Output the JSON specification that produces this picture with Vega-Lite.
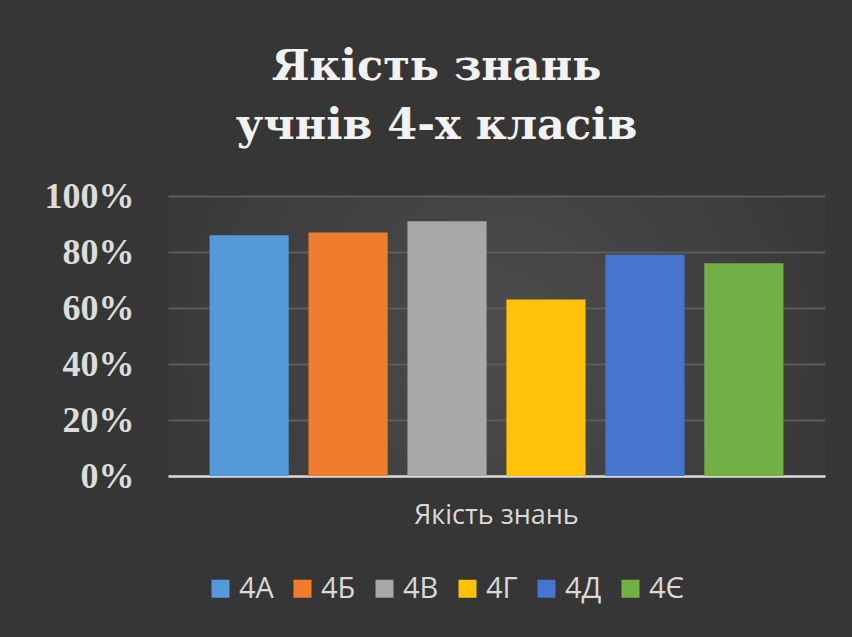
{
  "$schema": "https://vega.github.io/schema/vega-lite/v6.json",
  "autosize": "none",
  "width": 657,
  "height": 280,
  "padding": {"left": 168, "top": 196, "right": 27, "bottom": 161},
  "background": "#363636",
  "title": {
    "text": ["Якість знань", "учнів 4-х класів"],
    "font": "DejaVu Serif",
    "fontSize": 43,
    "fontWeight": "bold",
    "color": "#f2f2f2",
    "lineHeight": 59,
    "anchor": "middle",
    "frame": "group",
    "dx": -60,
    "offset": 30
  },
  "data": {
    "values": [
      {"criterion": "Якість знань", "class": "4А", "value": 0.86},
      {"criterion": "Якість знань", "class": "4Б", "value": 0.87},
      {"criterion": "Якість знань", "class": "4В", "value": 0.91},
      {"criterion": "Якість знань", "class": "4Г", "value": 0.63},
      {"criterion": "Якість знань", "class": "4Д", "value": 0.79},
      {"criterion": "Якість знань", "class": "4Є", "value": 0.76}
    ]
  },
  "mark": {"type": "bar"},
  "encoding": {
    "x": {
      "field": "criterion",
      "type": "nominal",
      "scale": {"paddingInner": 0, "paddingOuter": 0},
      "axis": {
        "title": null,
        "labelAngle": 0,
        "labelFont": "Open Sans",
        "labelFontSize": 27,
        "labelColor": "#d9d9d9",
        "labelPadding": 39,
        "labelBaseline": "middle",
        "ticks": false,
        "domain": true,
        "domainColor": "#d9d9d9",
        "domainWidth": 2.5,
        "grid": false
      }
    },
    "xOffset": {
      "field": "class",
      "type": "nominal",
      "sort": ["4А", "4Б", "4В", "4Г", "4Д", "4Є"],
      "scale": {"paddingInner": 0.2, "paddingOuter": 0.42}
    },
    "y": {
      "field": "value",
      "type": "quantitative",
      "scale": {"domain": [0, 1]},
      "axis": {
        "title": null,
        "format": ".0%",
        "values": [0, 0.2, 0.4, 0.6, 0.8, 1],
        "labelFont": "Liberation Serif",
        "labelFontWeight": "bold",
        "labelFontSize": 36,
        "labelColor": "#dcdcdc",
        "labelPadding": 34,
        "ticks": false,
        "domain": false,
        "grid": true,
        "gridColor": "#5c5c5c",
        "gridWidth": 2
      }
    },
    "color": {
      "field": "class",
      "type": "nominal",
      "sort": ["4А", "4Б", "4В", "4Г", "4Д", "4Є"],
      "scale": {
        "domain": ["4А", "4Б", "4В", "4Г", "4Д", "4Є"],
        "range": ["#5599d8", "#f07d2e", "#a8a8a8", "#ffc20a", "#4575cc", "#72b046"]
      },
      "legend": {
        "title": null,
        "orient": "none",
        "legendX": 38,
        "legendY": 378,
        "direction": "horizontal",
        "columns": 6,
        "padding": 0,
        "symbolType": "square",
        "symbolSize": 324,
        "symbolStrokeWidth": 0,
        "labelFont": "Open Sans",
        "labelFontSize": 29,
        "labelColor": "#d9d9d9",
        "labelOffset": 4,
        "columnPadding": 14
      }
    }
  },
  "config": {
    "view": {
      "stroke": null,
      "fill": {
        "gradient": "radial",
        "x1": 0.5, "y1": 0.5, "r1": 0,
        "x2": 0.5, "y2": 0.5, "r2": 0.6,
        "stops": [
          {"offset": 0, "color": "#4c4c4c"},
          {"offset": 1, "color": "#363636"}
        ]
      }
    }
  }
}
